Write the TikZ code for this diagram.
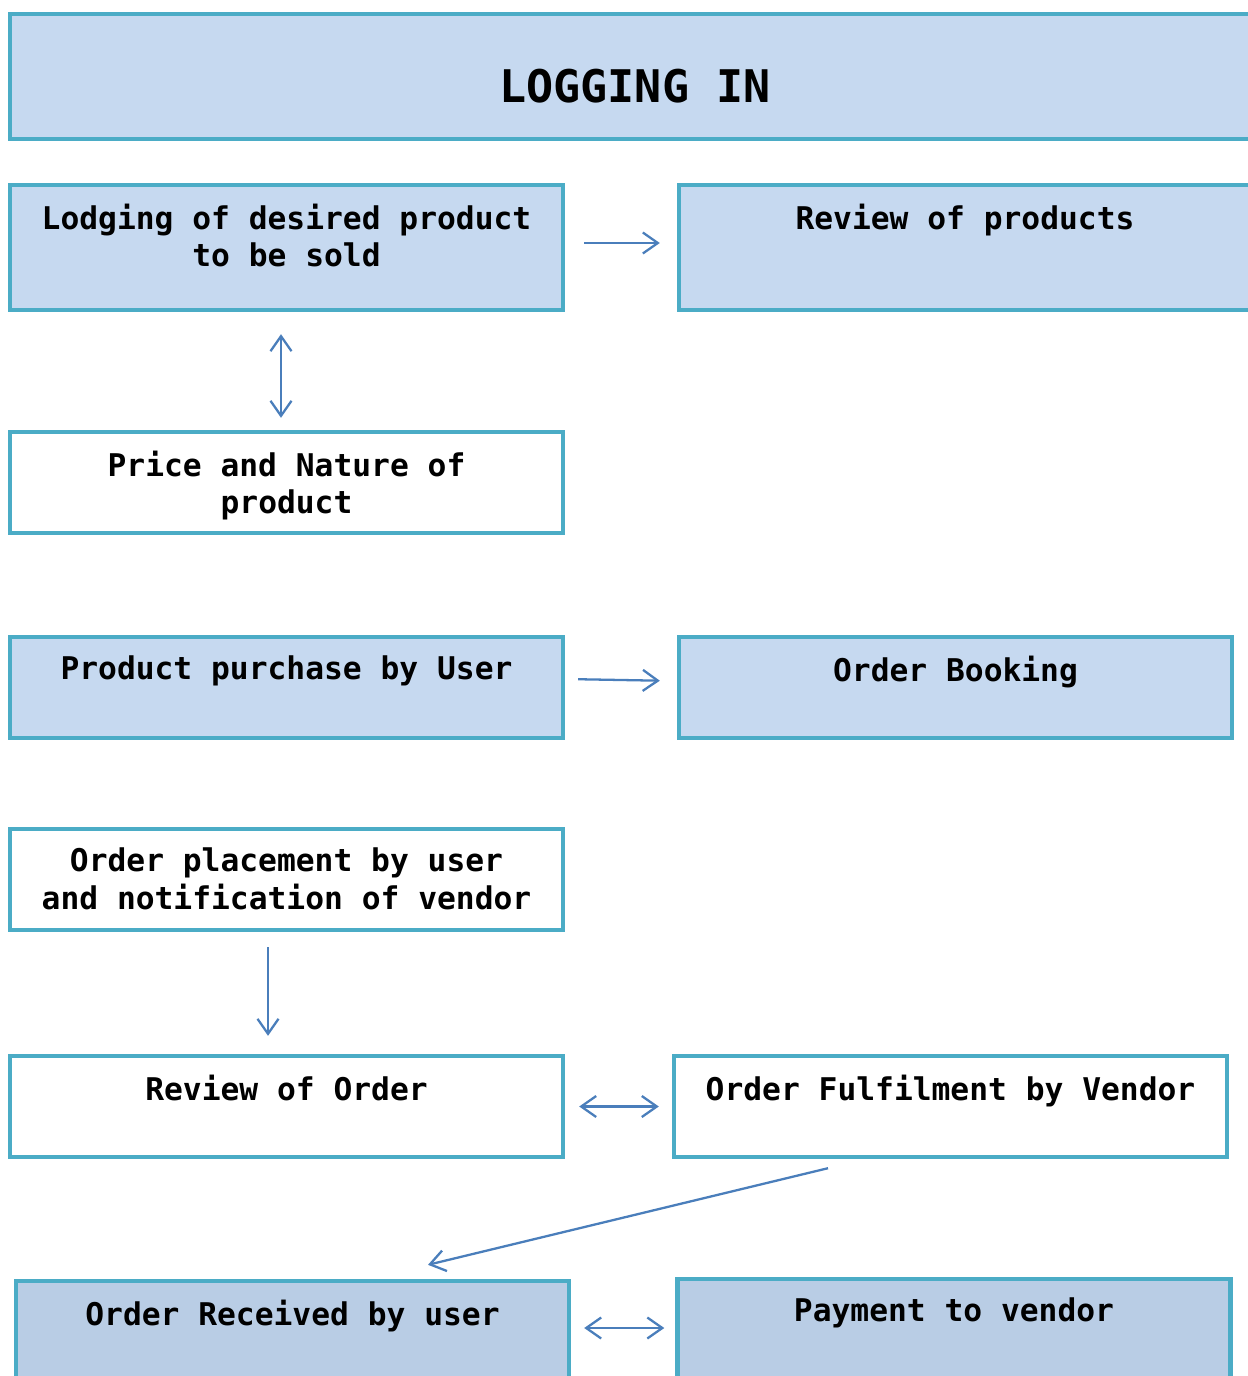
\documentclass[tikz,border=0pt]{standalone}
\usepackage{fontspec}
\setmonofont{DejaVu Sans Mono}
\usepackage{xcolor}
\usepackage{tikz}
\usetikzlibrary{arrows.meta}

\definecolor{boxblue}{HTML}{C6D9F0}
\definecolor{boxdark}{HTML}{B9CDE5}
\definecolor{boxline}{HTML}{4BACC6}
\definecolor{arrowblue}{HTML}{4A7EBB}

\tikzset{
  box/.style={draw=boxline, line width=2.5pt, rectangle, minimum width=11.06cm, minimum height=2.02cm, inner sep=0pt},
  lab/.style={anchor=north, yshift=-0.3cm, align=center, font=\ttfamily\bfseries\fontsize{17.8}{21.2}\selectfont},
  link/.style={draw=arrowblue, line width=1.3pt, arrows={-Straight Barb[length=3mm, width=4.2mm]}},
  dlink/.style={link, arrows={Straight Barb[length=3mm, width=4.2mm]-Straight Barb[length=3mm, width=4.2mm]}}
}

\begin{document}
\begin{tikzpicture}
    \useasboundingbox (0,0) rectangle (24.94,-27.52);
    % titolo
    \node[box, fill=boxblue, minimum width=25cm, minimum height=2.5cm, label={[font=\ttfamily\bfseries\fontsize{25.6}{30}\selectfont, anchor=center, yshift=-0.2cm]center:LOGGING IN}] (T) at (12.7,-1.53) {};
    % colonna sinistra
    \node[box, fill=boxblue, minimum height=2.5cm, label={[lab]north:{Lodging of desired product\\to be sold}}] (A) at (5.73,-4.95) {};
    \node[box, fill=white, label={[lab]north:{Price and Nature of\\product}}] (C) at (5.73,-9.65) {};
    \node[box, fill=boxblue, label={[lab]north:Product purchase by User}] (D) at (5.73,-13.75) {};
    \node[box, fill=white, label={[lab]north:{Order placement by user\\and notification of vendor}}] (F) at (5.73,-17.59) {};
    \node[box, fill=white, label={[lab]north:Review of Order}] (G) at (5.73,-22.13) {};
    \node[box, fill=boxdark, minimum height=2.5cm, label={[lab]north:Order Received by user}] (I) at (5.85,-26.87) {};
    % colonna destra
    \node[box, fill=boxblue, minimum width=11.44cm, minimum height=2.5cm, label={[lab]north:Review of products}] (B) at (19.30,-4.95) {};
    \node[box, fill=boxblue, label={[lab]north:Order Booking}] (E) at (19.11,-13.75) {};
    \node[box, fill=white, label={[lab]north:Order Fulfilment by Vendor}] (H) at (19.01,-22.13) {};
    \node[box, fill=boxdark, minimum height=2.5cm, label={[lab]north:Payment to vendor}] (J) at (19.08,-26.83) {};
    % frecce
    \draw[link, shorten <=0.38cm, shorten >=0.34cm] ([yshift=0.09cm]A.east) -- ([yshift=0.09cm]B.west);
    \draw[dlink, shorten <=0.44cm, shorten >=0.24cm] ([xshift=-0.11cm]A.south) -- ([xshift=-0.11cm]C.north);
    \draw[link, shorten <=0.26cm, shorten >=0.34cm] ([yshift=0.17cm]D.east) -- ([yshift=0.13cm]E.west);
    \draw[link, shorten <=0.3cm, shorten >=0.36cm] ([xshift=-0.37cm]F.south) -- ([xshift=-0.37cm]G.north);
    \draw[dlink, shorten <=0.28cm, shorten >=0.26cm] (G.east) -- (H.west);
    \draw[link] ([xshift=-2.45cm, yshift=-0.18cm]H.south) -- ([xshift=2.71cm, yshift=0.28cm]I.north);
    \draw[dlink, shorten <=0.26cm, shorten >=0.22cm] ([yshift=0.31cm]I.east) -- ([yshift=0.27cm]J.west);
\end{tikzpicture}
\end{document}
